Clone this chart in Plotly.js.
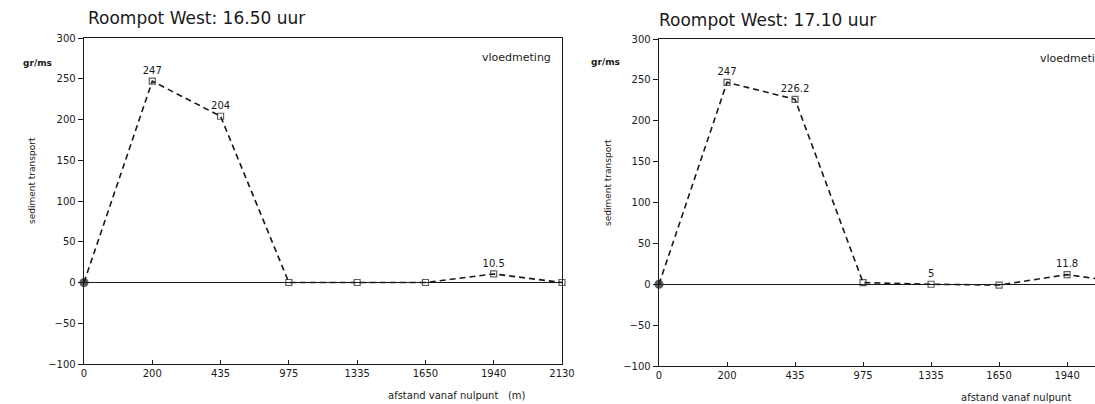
<!DOCTYPE html>
<html>
<head>
<meta charset="utf-8">
<script src="https://cdn.plot.ly/plotly-3.0.1.min.js"></script>
<style>html,body{margin:0;padding:0;background:#fff;}#chart{width:1095px;height:404px;}</style>
</head>
<body>
<div id="chart"></div>
<script>
// Distances (m) — equally spaced category ticks
const categories = ['0', '200', '435', '975', '1335', '1650', '1940', '2130'];
// Left panel: 16.50 uur
const valuesLeft = [0, 247, 204, 0, 0, 0, 10.5, 0];
const labelsLeft = ['', '247', '204', '', '', '', '10.5', ''];
// Right panel: 17.10 uur
const valuesRight = [0, 247, 226.2, 2, 0, -1, 11.8, 0];
const labelsRight = ['', '247', '226.2', '', '5', '', '11.8', ''];
const yTicks = [-100, -50, 0, 50, 100, 150, 200, 250, 300];

const fontFam = '"DejaVu Sans", "Noto Sans", sans-serif';
const ink = '#1a1a1a';

function symbols(n) { return categories.map((c, i) => i === 0 ? 'circle' : 'square-open'); }
function sizes() { return categories.map((c, i) => i === 0 ? 8 : 6); }

const traceL = {
  x: categories, y: valuesLeft, text: labelsLeft,
  mode: 'lines+markers+text', textposition: 'top center',
  textfont: {family: fontFam, size: 10, color: ink},
  line: {color: ink, width: 1.6, dash: '6px,4px'},
  marker: {symbol: symbols(), size: sizes(), color: ink, line: {color: ink, width: 1.2}},
  cliponaxis: false, xaxis: 'x', yaxis: 'y', hoverinfo: 'skip'
};
const traceR = {
  x: categories, y: valuesRight, text: labelsRight,
  mode: 'lines+markers+text', textposition: 'top center',
  textfont: {family: fontFam, size: 10, color: ink},
  line: {color: ink, width: 1.6, dash: '6px,4px'},
  marker: {symbol: symbols(), size: sizes(), color: ink, line: {color: ink, width: 1.2}},
  cliponaxis: false, xaxis: 'x2', yaxis: 'y2', hoverinfo: 'skip'
};

const xCommon = {
  type: 'category', showgrid: false, showline: true, linecolor: ink, linewidth: 1.3,
  ticks: 'inside', ticklen: 4, tickcolor: ink, tickfont: {family: fontFam, size: 10, color: ink},
  zeroline: false, fixedrange: true
};
const yCommon = {
  range: [-100, 300], tickvals: yTicks, showgrid: false, showline: true, linecolor: ink, linewidth: 1.3,
  ticks: 'outside', ticklen: 5, tickcolor: ink, tickfont: {family: fontFam, size: 10, color: ink},
  zeroline: true, zerolinecolor: ink, zerolinewidth: 1.2, fixedrange: true
};

const layout = {
  width: 1095, height: 404,
  margin: {l: 0, r: 0, t: 0, b: 0},
  paper_bgcolor: '#fff', plot_bgcolor: '#fff',
  showlegend: false,
  xaxis: Object.assign({}, xCommon, {domain: [84/1095, 562/1095], range: [0, 7], mirror: true, anchor: 'y'}),
  yaxis: Object.assign({}, yCommon, {domain: [40/404, 366/404], mirror: true, anchor: 'x'}),
  xaxis2: Object.assign({}, xCommon, {domain: [659/1095, 1], range: [0, 6.41], mirror: true, anchor: 'y2'}),
  yaxis2: Object.assign({}, yCommon, {domain: [38/404, 365/404], mirror: false, anchor: 'x2'}),
  annotations: [
    {xref: 'paper', yref: 'paper', x: 86/1095, y: 1 - 18/404, xanchor: 'left', yanchor: 'middle',
     text: 'Roompot West: 16.50 uur', showarrow: false, font: {family: fontFam, size: 17, color: ink}},
    {xref: 'paper', yref: 'paper', x: 657/1095, y: 1 - 20/404, xanchor: 'left', yanchor: 'middle',
     text: 'Roompot West: 17.10 uur', showarrow: false, font: {family: fontFam, size: 17, color: ink}},
    {xref: 'paper', yref: 'paper', x: 553/1095, y: 1 - 57/404, xanchor: 'right', yanchor: 'middle',
     text: 'vloedmeting', showarrow: false, font: {family: fontFam, size: 11, color: ink}},
    {xref: 'paper', yref: 'paper', x: 1038/1095, y: 1 - 58/404, xanchor: 'left', yanchor: 'middle',
     text: 'vloedmeting', showarrow: false, font: {family: fontFam, size: 11, color: ink}},
    {xref: 'paper', yref: 'paper', x: 37/1095, y: 1 - 63/404, xanchor: 'center', yanchor: 'middle',
     text: '<b>gr/ms</b>', showarrow: false, font: {family: fontFam, size: 9, color: ink}},
    {xref: 'paper', yref: 'paper', x: 605/1095, y: 1 - 62/404, xanchor: 'center', yanchor: 'middle',
     text: '<b>gr/ms</b>', showarrow: false, font: {family: fontFam, size: 9, color: ink}},
    {xref: 'paper', yref: 'paper', x: 32/1095, y: 1 - 181/404, xanchor: 'center', yanchor: 'middle',
     text: 'sediment transport', textangle: -90, showarrow: false, font: {family: fontFam, size: 9, color: ink}},
    {xref: 'paper', yref: 'paper', x: 608/1095, y: 1 - 183/404, xanchor: 'center', yanchor: 'middle',
     text: 'sediment transport', textangle: -90, showarrow: false, font: {family: fontFam, size: 9, color: ink}},
    {xref: 'paper', yref: 'paper', x: 457/1095, y: 1 - 395/404, xanchor: 'center', yanchor: 'middle',
     text: 'afstand vanaf nulpunt&nbsp;&nbsp;&nbsp;(m)', showarrow: false, font: {family: fontFam, size: 10, color: ink}},
    {xref: 'paper', yref: 'paper', x: 1016/1095, y: 1 - 397/404, xanchor: 'center', yanchor: 'middle',
     text: 'afstand vanaf nulpunt', showarrow: false, font: {family: fontFam, size: 10, color: ink}}
  ]
};

Plotly.newPlot('chart', [traceL, traceR], layout, {staticPlot: true, displayModeBar: false});
</script>
</body>
</html>
